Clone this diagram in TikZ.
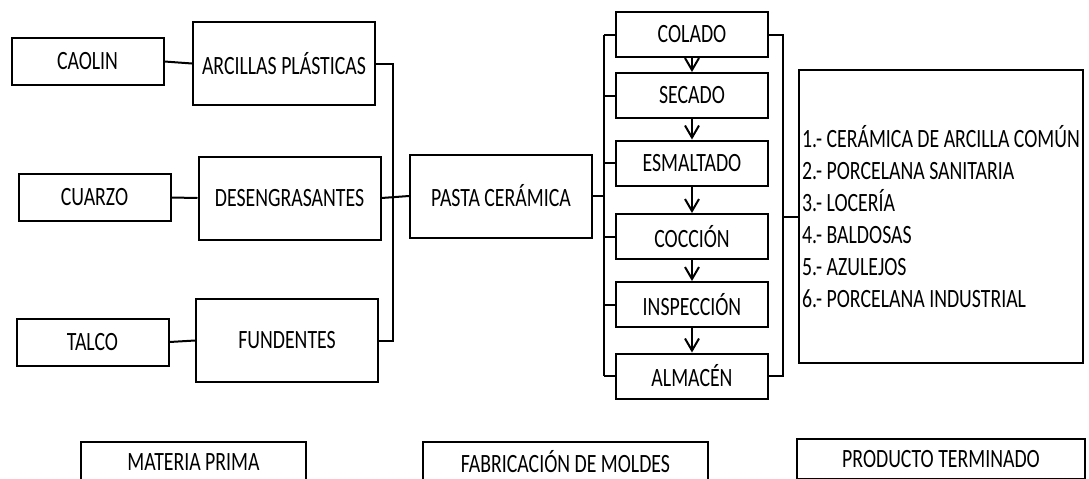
\documentclass[tikz,border=0pt]{standalone}
\usepackage{fontspec}
\setmainfont[FakeStretch=0.75]{Carlito}
\usetikzlibrary{arrows.meta}
\tikzset{
	box/.style={draw, line width=1pt, inner sep=1pt, font=\fontsize{13.2}{16}\selectfont},
	smallbox/.style={box, minimum width=76pt, minimum height=23.5pt},
	bigbox/.style={box, minimum width=91pt, minimum height=41.5pt},
	procbox/.style={box, minimum width=76pt, minimum height=22.5pt},
	labelbox/.style={box, minimum height=20pt},
	link/.style={line width=1pt},
	flow/.style={line width=1pt, -{Straight Barb[length=6pt,width=7pt]}}
}

\begin{document}
\begin{tikzpicture}[x=0.5pt,y=-0.5pt]
			%%%%% START %%%%%
			
			\clip (0,0) rectangle (1089,478);
			
			% materia prima
			\node[smallbox] (caolin) at (87.5,61.5) {CAOLIN};
			\node[smallbox] (cuarzo) at (94.5,197.5) {CUARZO};
			\node[smallbox] (talco) at (92.5,342) {TALCO};
			\node[bigbox] (arcillas) at (284,63.5) {ARCILLAS PLÁSTICAS};
			\node[bigbox] (deseng) at (289.5,198) {DESENGRASANTES};
			\node[bigbox] (fund) at (287,340.5) {FUNDENTES};
			\node[bigbox] (pasta) at (501,196) {PASTA CERÁMICA};
			
			\draw[link] (caolin.east) -- (arcillas.west);
			\draw[link] (cuarzo.east) -- (deseng.west);
			\draw[link] (talco.east) -- (fund.west);
			
			\coordinate (busA) at (393,0);
			\coordinate (busB) at (604,0);
			\coordinate (busC) at (783,0);
			
			\draw[link] (arcillas.east) -- (arcillas.east -| busA) -- (fund.east -| busA) -- (fund.east);
			\draw[link] (deseng.east) -- (pasta.west);
			\draw[link] (pasta.east) -- (pasta.east -| busB);
			
			% fabricacion
			\foreach \n/\t/\y in {colado/COLADO/34.5, secado/SECADO/95.5, esmaltado/ESMALTADO/163,
				coccion/COCCIÓN/236.5, inspeccion/INSPECCIÓN/304.5, almacen/ALMACÉN/376}
				\node[procbox] (\n) at (692,\y) {\t};
			
			\foreach \n in {colado,secado,esmaltado,coccion,inspeccion,almacen}
				\draw[link] (\n.west -| busB) -- (\n.west);
			\draw[link] (colado.west -| busB) -- (almacen.west -| busB);
			
			\foreach \a/\b in {colado/secado, secado/esmaltado, esmaltado/coccion,
				coccion/inspeccion, inspeccion/almacen}
				\draw[flow] (\a.south) -- (\b.north);
			
			% producto
			\node[box, minimum width=142pt, minimum height=146.5pt, align=left] (productos) at (941,216.5)
				{1.- CERÁMICA DE ARCILLA COMÚN\\2.- PORCELANA SANITARIA\\3.- LOCERÍA\\
				 4.- BALDOSAS\\5.- AZULEJOS\\6.- PORCELANA INDUSTRIAL};
			
			\draw[link] (colado.east) -- (colado.east -| busC) -- (almacen.east -| busC) -- (almacen.east);
			\draw[link] (productos.west -| busC) -- (productos.west);
			
			% etiquetas
			\node[labelbox, minimum width=112.5pt] (materia) at (193.5,462) {MATERIA PRIMA};
			\node[labelbox, minimum width=142.5pt] (moldes) at (565.5,462) {FABRICACIÓN DE MOLDES};
			\node[labelbox, minimum width=144pt] (terminado) at (941,459) {PRODUCTO TERMINADO};
			
			%%%%% END %%%%%
\end{tikzpicture}
\end{document}
